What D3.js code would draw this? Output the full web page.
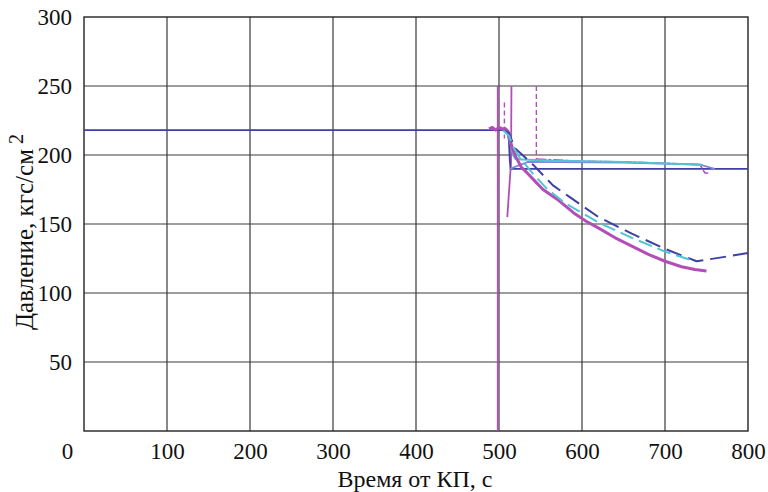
<!DOCTYPE html>
<html><head><meta charset="utf-8">
<script src="https://cdn.jsdelivr.net/npm/d3@7"></script>
<style>body{margin:0;background:#fff}svg{display:block}</style>
</head><body>
<svg id="c" width="768" height="492"></svg>
<script>
// ---- data ----
const xTicks = [0,100,200,300,400,500,600,700,800];
const yTicks = [50,100,150,200,250,300];
const xLabel = "Время от КП, с";
const yLabel = "Давление, кгс/см";

// dark blue solid
const blueSolid = [[0,218],[490,218],[505,218],[510,217],[512,210],[513,196],[514,190],[560,190],[700,190],[800,190]];
// dark blue long-dash
const blueDash = [[505,218],[512,216],[519,205],[541,193],[565,178],[584,170],[620,155],[660,143],[700,132],[738,123],[770,126],[800,129]];
// cyan long-dash
const cyanDash = [[505,218],[512,214],[518,205],[525,198],[540,187],[557,176],[580,165],[600,158],[620,151],[660,140],[700,130],[736,123]];
// cyan solid
const cyanSolid = [[505,218],[510,216],[514,208],[517,200],[520,197],[560,196],[650,195],[745,193]];
// lavender solid
const lavSolid = [[513,190],[535,195],[650,194.5],[742,193],[760,190]];
// magenta main curve
const magMain = [[488,219],[492,220],[496,218],[500,220],[504,219],[508,219],[511,217],[513,212],[516,205],[520,199],[527,191],[534,187],[545,180],[553,175],[570,168],[590,158],[605,152],[620,147],[640,140],[660,134],[680,128],[700,123],[720,119],[736,117],[750,116]];
// magenta upper thin line
const magUpper = [[545,197],[600,195.5],[650,195],[700,194],[742,193],[746,189],[748,187],[752,187]];
// magenta spikes (solid)
const magSpikeA = [[498.5,250],[498.5,0]];
const magSpikeB = [[515,250],[514.5,195],[510,155]];
// magenta spikes (dashed)
const magSpikeC = [[506.5,238],[506.5,212]];
const magSpikeD = [[545,250],[545,196]];

// ---- layout ----
const W = 768, H = 492;
const m = {l:84, t:17, r:20, b:61};
const iw = W - m.l - m.r, ih = H - m.t - m.b;
const svg = d3.select("#c");
const x = d3.scaleLinear().domain([0,800]).range([m.l, m.l+iw]);
const y = d3.scaleLinear().domain([0,300]).range([m.t+ih, m.t]);
const font = "'Liberation Serif','Times New Roman',serif";
const FS = 23;

// grid
const g = svg.append("g");
g.selectAll("line.vx").data(xTicks.slice(1,-1)).join("line")
  .attr("x1",d=>x(d)).attr("x2",d=>x(d)).attr("y1",y(0)).attr("y2",y(300))
  .attr("stroke","#3a3a3a").attr("stroke-width",1.2);
g.selectAll("line.hy").data(yTicks.slice(0,-1)).join("line")
  .attr("x1",x(0)).attr("x2",x(800)).attr("y1",d=>y(d)).attr("y2",d=>y(d))
  .attr("stroke","#3a3a3a").attr("stroke-width",1.2);
g.append("rect").attr("x",x(0)).attr("y",y(300)).attr("width",x(800)-x(0)).attr("height",y(0)-y(300))
  .attr("fill","none").attr("stroke","#222").attr("stroke-width",1.4);

// axes labels via d3 axes (no domain/ticks)
const xa = svg.append("g").attr("transform",`translate(0,${y(0)})`)
  .call(d3.axisBottom(x).tickValues(xTicks).tickSize(0).tickPadding(12).tickFormat(d3.format("d")));
xa.select(".domain").remove();
xa.selectAll("text").attr("font-family",font).attr("font-size",FS).attr("fill","#111")
  .attr("dx",d=>d===0?-17:0);
const ya = svg.append("g").attr("transform",`translate(${x(0)},0)`)
  .call(d3.axisLeft(y).tickValues(yTicks).tickSize(0).tickPadding(12).tickFormat(d3.format("d")));
ya.select(".domain").remove();
ya.selectAll("text").attr("font-family",font).attr("font-size",FS).attr("fill","#111");

svg.append("text").attr("x",415).attr("y",487).attr("text-anchor","middle")
  .attr("font-family",font).attr("font-size",24).attr("fill","#111").text(xLabel);
const yl = svg.append("text").attr("transform","translate(33,232) rotate(-90)").attr("text-anchor","middle")
  .attr("font-family",font).attr("font-size",25).attr("fill","#111");
yl.append("tspan").text(yLabel);
yl.append("tspan").attr("dy",-10).attr("dx",5).attr("font-size",20).text("2");

// series
const line = d3.line().x(d=>x(d[0])).y(d=>y(d[1]));
const P = svg.append("g").attr("fill","none").attr("stroke-linejoin","round");
const draw = (data,color,w,dash) => {
  const p = P.append("path").attr("d",line(data)).attr("stroke",color).attr("stroke-width",w);
  if (dash) p.attr("stroke-dasharray",dash);
};
const BLUE="#3f3fa3", MAG="#b24fb6", CYAN="#52c3d3", LAV="#8585dc";
draw(magSpikeA,MAG,1.8);
draw(magSpikeB,MAG,1.8);
draw(magSpikeC,MAG,1.4,"5,3");
draw(magSpikeD,MAG,1.4,"5,3");
draw(blueSolid,BLUE,1.8);
draw(lavSolid,LAV,1.8);
draw(magUpper,MAG,1.6,"10,2,3,2");
draw(cyanSolid,CYAN,2);
draw(magMain,MAG,3);
draw(blueDash,BLUE,2,"16,7");
draw(cyanDash,CYAN,2,"14,6");
</script>
</body></html>
